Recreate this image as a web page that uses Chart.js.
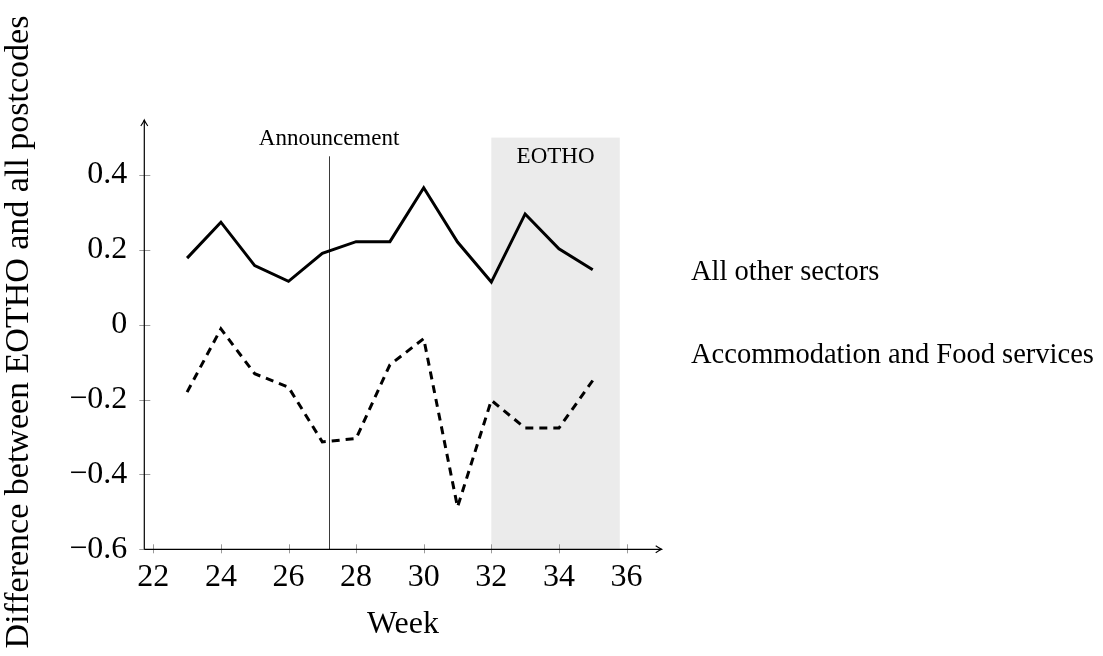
<!DOCTYPE html>
<html>
<head>
<meta charset="utf-8">
<script src="https://cdn.jsdelivr.net/npm/chart.js@4/dist/chart.umd.min.js"></script>
<style>
  html, body { margin: 0; padding: 0; background: #fff; }
  #wrap { width: 1103px; height: 656px; position: relative; }
</style>
</head>
<body>
<div id="wrap"><canvas id="c" width="1103" height="656"></canvas></div>
<script>
// Weekly difference between EOTHO postcodes and all postcodes
const weeks = [23, 24, 25, 26, 27, 28, 29, 30, 31, 32, 33, 34, 35];
const allOtherSectors = [0.178, 0.274, 0.158, 0.116, 0.191, 0.222, 0.222, 0.366, 0.221, 0.114, 0.296, 0.203, 0.147];
const accommodationFood = [-0.180, -0.011, -0.131, -0.167, -0.313, -0.304, -0.107, -0.037, -0.487, -0.202, -0.276, -0.276, -0.149];

const xTicks = [22, 24, 26, 28, 30, 32, 34, 36];
const yTicks = [-0.6, -0.4, -0.2, 0, 0.2, 0.4];

const announcementWeek = 27.2;
const announcementTop = 0.45;
const eothoStart = 32;
const eothoEnd = 35.8;
const eothoTop = 0.5;

const SERIF = '"Liberation Serif", "DejaVu Serif", serif';

function fmtTick(v) {
  if (Math.abs(v) < 1e-9) return '0';
  const s = Math.abs(v).toFixed(1);
  return (v < 0 ? '\u2212' : '') + s;
}

const decorations = {
  id: 'decorations',
  beforeDatasetsDraw(chart) {
    const { ctx, chartArea } = chart;
    const xs = chart.scales.x, ys = chart.scales.y;
    ctx.save();
    // EOTHO period shading
    const bx0 = xs.getPixelForValue(eothoStart), bx1 = xs.getPixelForValue(eothoEnd);
    const by0 = ys.getPixelForValue(eothoTop), by1 = ys.getPixelForValue(-0.6);
    ctx.fillStyle = '#ebebeb';
    ctx.fillRect(bx0, by0, bx1 - bx0, by1 - by0);

    // tick marks crossing the axes
    ctx.strokeStyle = '#9a9a9a';
    ctx.lineWidth = 1;
    const axisY = ys.getPixelForValue(-0.6);
    const axisX = chartArea.left;
    xTicks.forEach(v => {
      const px = Math.round(xs.getPixelForValue(v)) + 0.5;
      ctx.beginPath(); ctx.moveTo(px, axisY - 5); ctx.lineTo(px, axisY + 4); ctx.stroke();
    });
    yTicks.forEach(v => {
      const py = Math.round(ys.getPixelForValue(v)) + 0.5;
      ctx.beginPath(); ctx.moveTo(axisX - 5, py); ctx.lineTo(axisX + 6, py); ctx.stroke();
    });

    // announcement marker
    const ax = Math.round(xs.getPixelForValue(announcementWeek)) + 0.5;
    ctx.strokeStyle = '#3a3a3a';
    ctx.lineWidth = 1;
    ctx.beginPath();
    ctx.moveTo(ax, ys.getPixelForValue(announcementTop));
    ctx.lineTo(ax, axisY);
    ctx.stroke();

    // axes with arrow heads
    ctx.strokeStyle = '#000';
    ctx.lineWidth = 1.2;
    const yTopPx = chartArea.top;
    const xRightPx = chartArea.right;
    ctx.beginPath();
    ctx.moveTo(axisX, axisY); ctx.lineTo(axisX, yTopPx);
    ctx.moveTo(axisX, axisY); ctx.lineTo(xRightPx, axisY);
    ctx.stroke();
    ctx.lineWidth = 1.1;
    ctx.beginPath();
    ctx.moveTo(axisX - 3.5, yTopPx + 6); ctx.quadraticCurveTo(axisX - 0.8, yTopPx + 2, axisX, yTopPx);
    ctx.quadraticCurveTo(axisX + 0.8, yTopPx + 2, axisX + 3.5, yTopPx + 6);
    ctx.moveTo(xRightPx - 6, axisY - 3.5); ctx.quadraticCurveTo(xRightPx - 2, axisY - 0.8, xRightPx, axisY);
    ctx.quadraticCurveTo(xRightPx - 2, axisY + 0.8, xRightPx - 6, axisY + 3.5);
    ctx.stroke();
    ctx.restore();
  },
  afterDraw(chart) {
    const { ctx, chartArea } = chart;
    const xs = chart.scales.x;
    ctx.save();
    ctx.fillStyle = '#000';
    ctx.textBaseline = 'alphabetic';

    // period labels
    ctx.textAlign = 'center';
    ctx.font = '23px ' + SERIF;
    ctx.fillText('Announcement', xs.getPixelForValue(announcementWeek), 145);
    ctx.fillText('EOTHO', xs.getPixelForValue((eothoStart + eothoEnd) / 2), 163);

    // series labels
    ctx.textAlign = 'left';
    ctx.font = '28.5px ' + SERIF;
    ctx.fillText(chart.data.datasets[0].label, 691, 280);
    ctx.fillText(chart.data.datasets[1].label, 691, 363);

    // axis titles
    ctx.textAlign = 'center';
    ctx.font = '32px ' + SERIF;
    ctx.fillText('Week', (chartArea.left + chartArea.right) / 2, 633);
    ctx.save();
    ctx.translate(28, 332);
    ctx.rotate(-Math.PI / 2);
    ctx.font = '34px ' + SERIF;
    ctx.fillText('Difference between EOTHO and all postcodes', 0, 0);
    ctx.restore();
    ctx.restore();
  }
};

new Chart(document.getElementById('c'), {
  type: 'line',
  data: {
    datasets: [
      {
        label: 'All other sectors',
        data: weeks.map((w, i) => ({ x: w, y: allOtherSectors[i] })),
        borderColor: '#000',
        borderWidth: 3,
        pointRadius: 0,
        tension: 0,
        fill: false
      },
      {
        label: 'Accommodation and Food services',
        data: weeks.map((w, i) => ({ x: w, y: accommodationFood[i] })),
        borderColor: '#000',
        borderWidth: 3,
        borderDash: [8, 6],
        pointRadius: 0,
        tension: 0,
        fill: false
      }
    ]
  },
  options: {
    responsive: false,
    animation: false,
    events: [],
    layout: { padding: { left: 0, top: 120, right: 441.3, bottom: 0 } },
    plugins: { legend: { display: false }, tooltip: { enabled: false } },
    scales: {
      x: {
        type: 'linear',
        min: 21.734,
        max: 37.04,
        afterBuildTicks: s => { s.ticks = xTicks.map(v => ({ value: v })); },
        afterFit: s => { s.height = 106.7; },
        grid: { display: false, drawTicks: false },
        border: { display: false },
        ticks: {
          color: '#000',
          font: { family: SERIF, size: 32 },
          padding: 9,
          maxRotation: 0,
          autoSkip: false,
          callback: v => String(v)
        }
      },
      y: {
        type: 'linear',
        min: -0.6,
        max: 0.547,
        afterBuildTicks: s => { s.ticks = yTicks.map(v => ({ value: v })); },
        afterFit: s => { s.width = 144.3; },
        grid: { display: false, drawTicks: false },
        border: { display: false },
        ticks: {
          color: '#000',
          font: { family: SERIF, size: 32 },
          padding: 17,
          autoSkip: false,
          callback: v => fmtTick(v)
        }
      }
    }
  },
  plugins: [decorations]
});
</script>
</body>
</html>
